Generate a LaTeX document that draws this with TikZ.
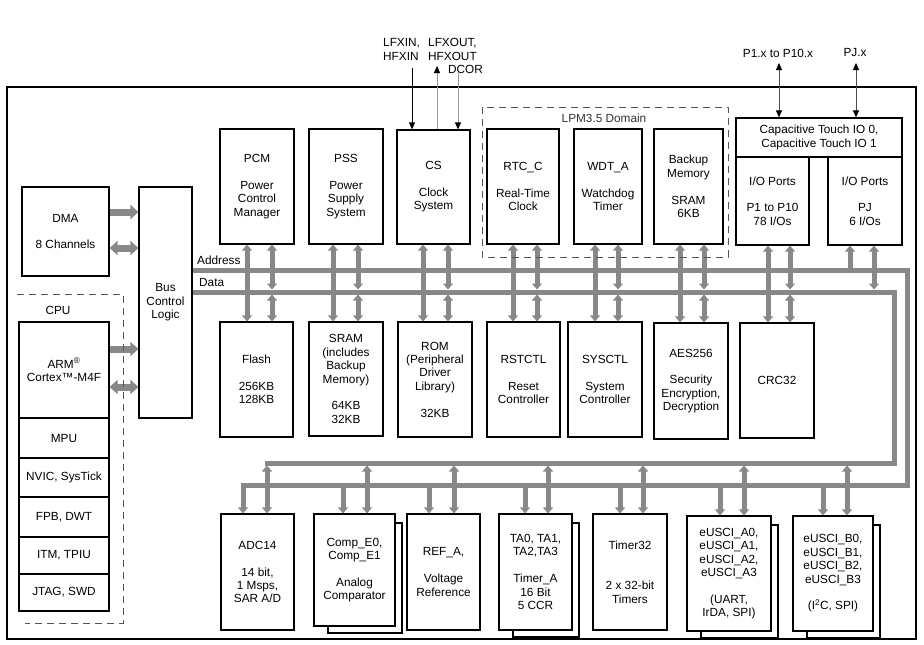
\documentclass[tikz,border=0pt]{standalone}
\usepackage{fontspec}
\setmainfont{Liberation Sans}
\usetikzlibrary{arrows.meta,fit}
\definecolor{buscol}{HTML}{888888}
\definecolor{dashcol}{HTML}{555555}
\pgfdeclarelayer{bg}
\pgfsetlayers{bg,main}
\tikzset{
  blk/.style={draw=black, line width=1.2pt, fill=white, inner sep=0pt, align=center,
    font=\fontsize{11.8}{13.4}\selectfont},
  lbl/.style={inner sep=0pt, font=\fontsize{11.8}{13.4}\selectfont},
  busline/.style={draw=buscol, line width=5pt},
  uarr/.style={draw=buscol, line width=5pt, -{Triangle[width=10pt,length=6pt]}},
  darr/.style={draw=buscol, line width=5pt, {Triangle[width=10pt,length=6pt]}-{Triangle[width=10pt,length=6pt]}},
  harr/.style={draw=buscol, line width=7pt, -{Triangle[width=14pt,length=8pt]}},
  hdarr/.style={draw=buscol, line width=7pt, {Triangle[width=14pt,length=8pt]}-{Triangle[width=14pt,length=8pt]}},
  sigarr/.style={line width=0.9pt, -{Triangle[width=6pt,length=7pt,color=black]}},
  sigdarr/.style={line width=0.9pt, draw=black!70, {Triangle[width=6pt,length=7pt,color=black]}-{Triangle[width=6pt,length=7pt,color=black]}},
  dashbox/.style={draw=dashcol, line width=1pt, dash pattern=on 7pt off 5pt}
}
\newcommand\mkblk[6]{\node[blk, minimum width={#4-#2}, minimum height={#5-#3}] (#1) at ({(#2+#4)/2},{(#3+#5)/2}) {#6};}
\newcommand\mkshadow[5]{\node[blk, minimum width={#4-#2-7}, minimum height={#5-#3-2}] (#1) at ({(#2+#4)/2+10.5},{(#3+#5)/2+8}) {};}
\newcommand\upconn[3]{%
  \draw[uarr] (#2,270) -- (#2,0 |- #1.south);
  \draw[darr] (#3,289.5) -- (#3,0 |- #1.south);}
\newcommand\dnconn[3]{%
  \draw[uarr] (#2,270) -- (#2,0 |- #1.north);
  \draw[darr] (#3,294.5) -- (#3,0 |- #1.north);}
\newcommand\btconn[3]{%
  \draw[uarr] (#2,485) -- (#2,0 |- #1.north);
  \draw[darr] (#3,465.5) -- (#3,0 |- #1.north);}
\begin{document}
\begin{tikzpicture}[x=1pt,y=-1pt]
\useasboundingbox (0,0) rectangle (924,645);
% outer frame
\node[draw, line width=1.5pt, inner sep=0pt, fit={(7,87) (916,639)}] (frame) {};

% dashed domains
\draw[dashbox] (482,107) rectangle (728,257);
\node[lbl, text=black!80] (lpm) at (604,118) {LPM3.5 Domain};
\draw[dashbox] (17,294) -- (123,294) -- (123,623) -- (25,623);
\node[lbl] (cpulbl) at (58,310) {CPU};

% left side
\mkblk{dma}{22}{187}{109}{276}{DMA\\[13.4pt]8 Channels}
\mkblk{bcl}{139}{187}{192}{418}{Bus\\Control\\Logic}
\mkblk{arm}{19}{322}{109}{418}{ARM\textsuperscript{®}\\Cortex™-M4F}
\mkblk{mpu}{19}{418}{109}{458}{MPU}
\mkblk{nvic}{19}{458}{109}{497}{NVIC, SysTick}
\mkblk{fpb}{19}{497}{109}{537}{FPB, DWT}
\mkblk{itm}{19}{537}{109}{574}{ITM, TPIU}
\mkblk{jtag}{19}{574}{109}{611}{JTAG, SWD}

% top row
\mkblk{pcm}{220}{129}{294}{244}{PCM\\[13.4pt]Power\\Control\\Manager}
\mkblk{pss}{309}{129}{383}{244}{PSS\\[13.4pt]Power\\Supply\\System}
\mkblk{cs}{397}{130}{470}{244}{CS\\[13.4pt]Clock\\System}
\mkblk{rtc}{487}{129}{559}{244}{RTC\_C\\[13.4pt]Real-Time\\Clock}
\mkblk{wdt}{574}{129}{642}{244}{WDT\_A\\[13.4pt]Watchdog\\Timer}
\mkblk{bkp}{654}{129}{723}{244}{Backup\\Memory\\[13.4pt]SRAM\\6KB}
\mkblk{cap}{736}{118}{902}{157}{Capacitive Touch IO 0,\\Capacitive Touch IO 1}
\mkblk{iop}{736}{157}{809}{245}{I/O Ports\\[13.4pt]P1 to P10\\78 I/Os}
\mkblk{iopj}{828}{157}{902}{245}{I/O Ports\\[13.4pt]PJ\\6 I/Os}

% middle row
\mkblk{flash}{220}{322}{293}{437}{Flash\\[13.4pt]256KB\\128KB}
\mkblk{sram}{309}{322}{383}{436}{SRAM\\(includes\\Backup\\Memory)\\[13.4pt]64KB\\32KB}
\mkblk{rom}{398}{322}{472}{437}{ROM\\(Peripheral\\Driver\\Library)\\[13.4pt]32KB}
\mkblk{rst}{487}{322}{560}{437}{RSTCTL\\[13.4pt]Reset\\Controller}
\mkblk{sys}{568}{322}{642}{437}{SYSCTL\\[13.4pt]System\\Controller}
\mkblk{aes}{654}{323}{728}{439}{AES256\\[13.4pt]Security\\Encryption,\\Decryption}
\mkblk{crc}{740}{323}{814}{438}{CRC32}

% bottom row
\mkblk{adc}{221}{514}{294}{630}{ADC14\\[13.4pt]14 bit,\\1 Msps,\\SAR A/D}
\mkshadow{comps}{314}{514}{395}{626}
\mkblk{comp}{314}{514}{395}{626}{Comp\_E0,\\Comp\_E1\\[13.4pt]Analog\\Comparator}
\mkblk{ref}{407}{514}{480}{630}{REF\_A,\\[13.4pt]Voltage\\Reference}
\mkshadow{tas}{499}{514}{572}{630}
\mkblk{ta}{499}{514}{572}{630}{TA0, TA1,\\TA2,TA3\\[13.4pt]Timer\_A\\16 Bit\\5 CCR}
\mkblk{tmr}{593}{514}{667}{630}{Timer32\\[26.8pt]2 x 32-bit\\Timers}
\mkshadow{eas}{687}{516}{771}{631}
\mkblk{ea}{687}{516}{771}{631}{eUSCI\_A0,\\eUSCI\_A1,\\eUSCI\_A2,\\eUSCI\_A3\\[13.4pt](UART,\\IrDA, SPI)}
\mkshadow{ebs}{793}{516}{873}{631}
\mkblk{eb}{793}{516}{873}{631}{eUSCI\_B0,\\eUSCI\_B1,\\eUSCI\_B2,\\eUSCI\_B3\\[13.4pt](I\textsuperscript{2}C, SPI)}

% bus labels
\node[lbl, anchor=west] (addrl) at (197,260) {Address};
\node[lbl, anchor=west] (datal) at (199,282) {Data};

% external signals
\node[lbl, anchor=west] (lfxin) at (383,43) {LFXIN,};
\node[lbl, anchor=west] (hfxin) at (383,56) {HFXIN};
\node[lbl, anchor=west] (lfxout) at (428,43) {LFXOUT,};
\node[lbl, anchor=west] (hfxout) at (428,56) {HFXOUT};
\node[lbl, anchor=west] (dcor) at (448,69) {DCOR};
\node[lbl] (p1l) at (778,53) {P1.x to P10.x};
\node[lbl] (pjl) at (855,52) {PJ.x};

\draw[sigarr, draw=black] (412,68) -- (412,0 |- cs.north);
\draw[sigarr, draw=black!40] (437,0 |- cs.north) -- (437,66);
\draw[sigarr, draw=black!40] (458,72) -- (458,0 |- cs.north);
\draw[sigdarr] (779,63) -- (779,0 |- cap.north);
\draw[sigdarr] (856,63) -- (856,0 |- cap.north);

\begin{pgfonlayer}{bg}
  % buses
  \draw[busline] (bcl.east |- 0,270) -- (907,270) -- (907,485) -- (240.5,485);
  \draw[busline] (bcl.east |- 0,292) -- (894,292) -- (894,463) -- (264.5,463);
  % DMA / CPU to bus control
  \draw[harr] (dma.east |- 0,212) -- (bcl.west |- 0,212);
  \draw[hdarr] (dma.east |- 0,248) -- (bcl.west |- 0,248);
  \draw[harr] (arm.east |- 0,349) -- (bcl.west |- 0,349);
  \draw[hdarr] (arm.east |- 0,387) -- (bcl.west |- 0,387);
  % top row
  \upconn{pcm}{247}{272}
  \upconn{pss}{333}{358}
  \upconn{cs}{423}{448}
  \upconn{rtc}{513}{537}
  \upconn{wdt}{595}{618}
  \upconn{bkp}{680}{704}
  \upconn{iop}{768}{790}
  \upconn{iopj}{850}{874}
  % middle row
  \dnconn{flash}{247}{272}
  \dnconn{sram}{333}{358}
  \dnconn{rom}{423}{448}
  \dnconn{rst}{513}{537}
  \dnconn{sys}{595}{618}
  \dnconn{aes}{680}{704}
  \dnconn{crc}{768}{790}
  % bottom row
  \btconn{adc}{243}{267}
  \btconn{comp}{343}{367}
  \btconn{ref}{429}{454}
  \btconn{ta}{525}{548}
  \btconn{tmr}{620}{643}
  \btconn{ea}{720}{744}
  \btconn{eb}{823}{847}
\end{pgfonlayer}
\end{tikzpicture}
\end{document}
